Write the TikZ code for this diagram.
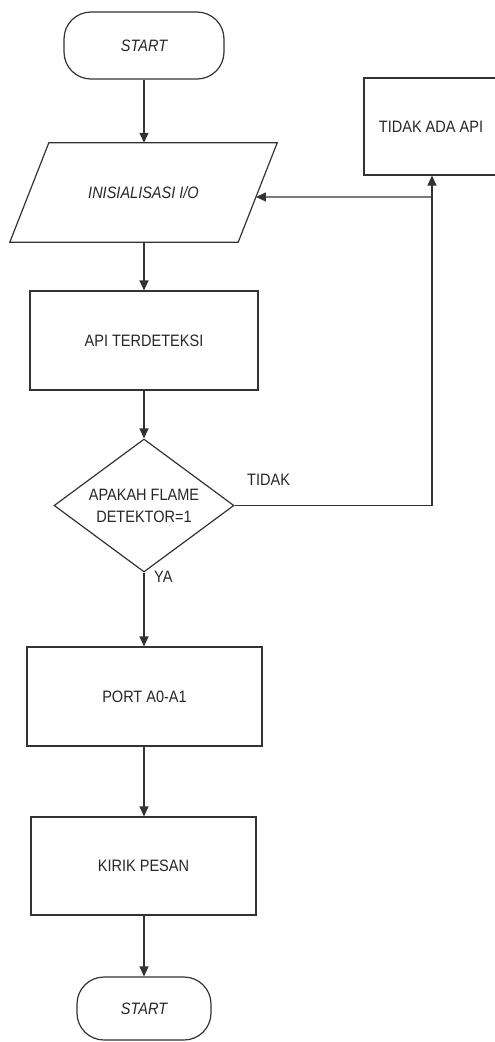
\documentclass[tikz,border=0pt]{standalone}
\usepackage{fontspec}
\setmainfont{Liberation Sans}[FakeStretch=0.88]
\usetikzlibrary{shapes.geometric,arrows.meta,calc}
\begin{document}
\begin{tikzpicture}[x=1pt,y=1pt,
  every node/.style={font=\fontsize{16.5}{22}\selectfont, text=black!85},
  ln/.style={draw=black!80, line width=1.2pt},
  box/.style={ln, rectangle, inner sep=0pt},
  term/.style={box, rounded corners=27pt},
  iobox/.style={rectangle, inner sep=0pt},
  decbox/.style={ln, diamond, shape aspect=1.35, inner sep=0pt, align=center},
  arr/.style={ln, -{Triangle[length=10pt,width=9pt]}},
  lbl/.style={inner sep=0pt, anchor=west}
]
\useasboundingbox (0,0) rectangle (495,-1042);
\node[term, minimum width=160pt, minimum height=67pt] (start) at (144,-45.5) {\itshape START};
\node[iobox, minimum width=267pt, minimum height=99pt] (io) at (143.5,-192.5) {\itshape INISIALISASI I/O};
\coordinate (iotl) at ($(io.north west)+(39,0)$);
\coordinate (iotr) at (io.north east);
\coordinate (iobr) at ($(io.south east)+(-39,0)$);
\coordinate (iobl) at (io.south west);
\draw[ln] (iotl) -- (iotr) -- (iobr) -- (iobl) -- cycle;
\node[box, minimum width=134pt, minimum height=97pt] (tidak) at (431,-126.5) {TIDAK ADA API};
\node[box, minimum width=228pt, minimum height=99pt] (api) at (144,-340.5) {API TERDETEKSI};
\node[decbox, minimum width=180pt, minimum height=133pt] (dec) at (144,-505.5) {APAKAH FLAME\\DETEKTOR=1};
\node[box, minimum width=235pt, minimum height=99pt] (port) at (144.5,-696.5) {PORT A0-A1};
\node[box, minimum width=225pt, minimum height=98pt] (kirik) at (143.5,-866) {KIRIK PESAN};
\node[term, minimum width=134pt, minimum height=63pt] (end) at (144,-1008.5) {\itshape START};
\node[lbl] (ltidak) at (247,-480) {TIDAK};
\node[lbl] (lya) at (154,-577) {YA};
\coordinate (c) at (432,-505.5);
\coordinate (j) at (432,-197);
\draw[arr] (start.south) -- (start.south |- io.north);
\draw[arr] (start.south |- io.south) -- (start.south |- api.north);
\draw[arr] (api.south) -- (dec.north);
\draw[arr] (dec.south) -- (dec.south |- port.north);
\draw[arr] (port.south -| dec.south) -- (dec.south |- kirik.north);
\draw[arr] (kirik.south -| dec.south) -- (dec.south |- end.north);
\draw[ln] (dec.east) -- (c);
\draw[arr] (c) -- (c |- tidak.south);
\draw[arr] (j) -- ($(iotr)!0.545!(iobr)$);
\end{tikzpicture}
\end{document}
